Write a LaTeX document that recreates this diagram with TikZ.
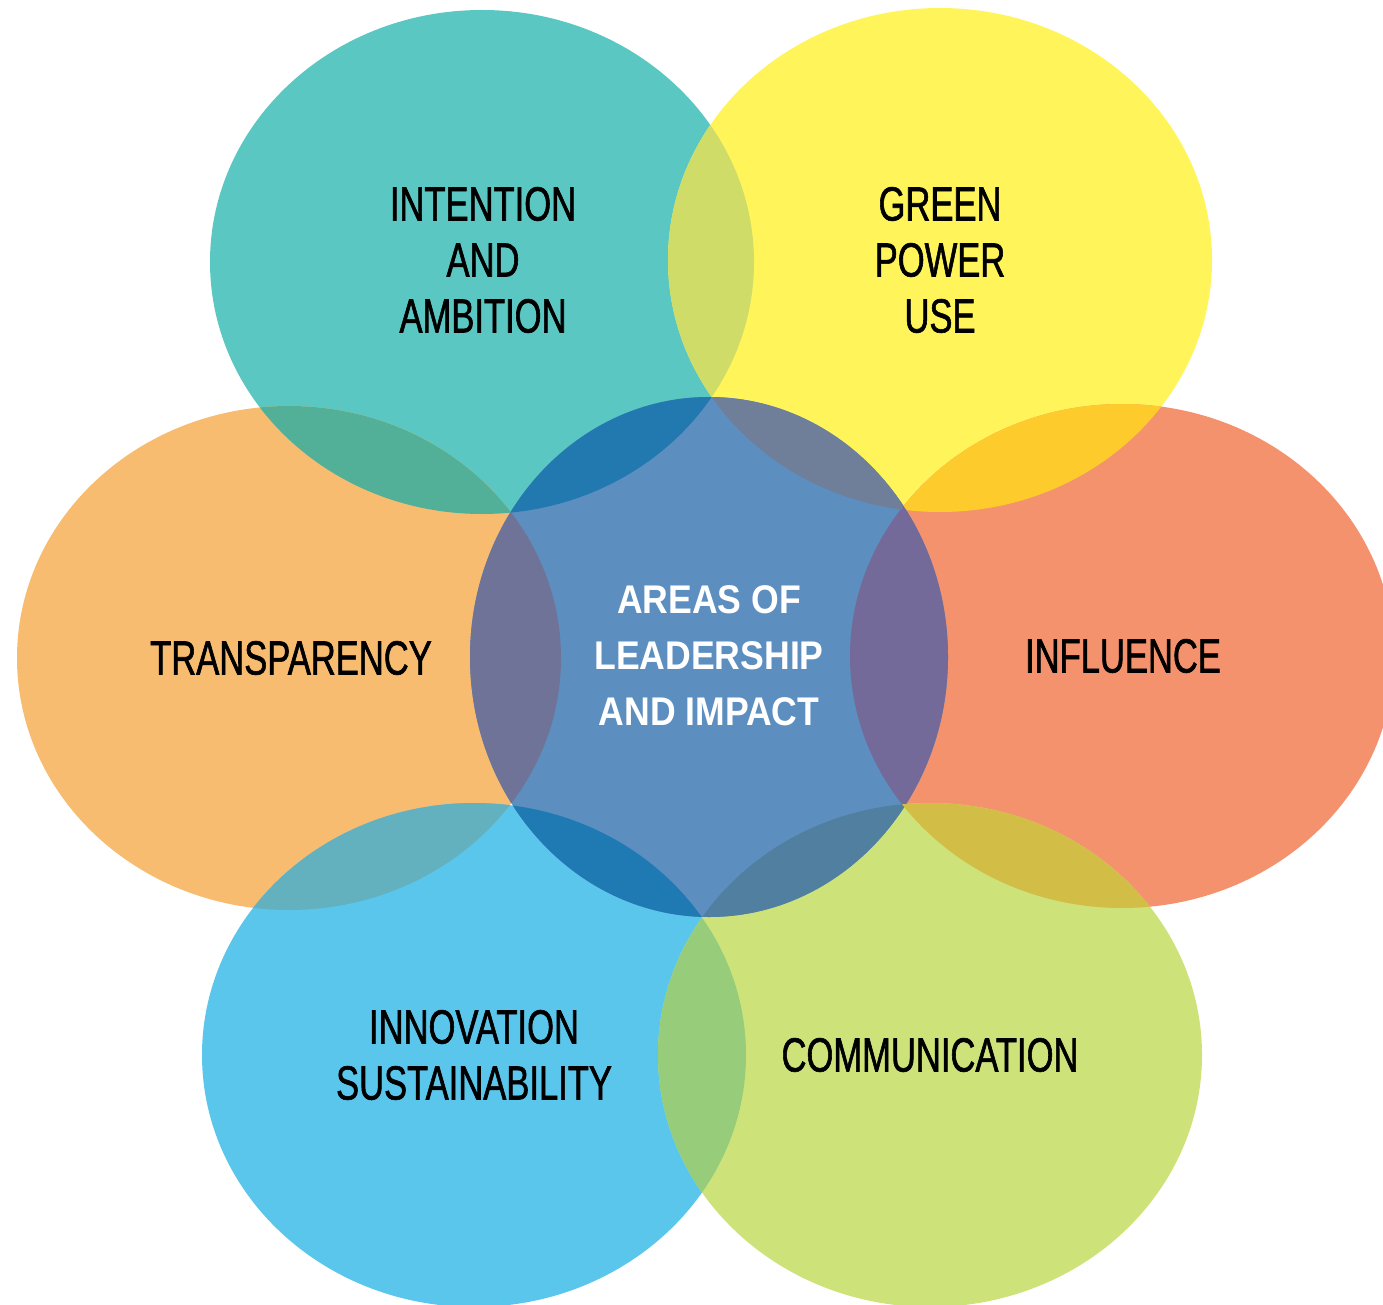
\documentclass[tikz,border=0pt]{standalone}
\usepackage{fontspec}
\newfontfamily\labelfont{Liberation Sans}[FakeStretch=0.72, FakeBold=1.2]
\newfontfamily\hubfont{Liberation Sans}[FakeStretch=0.89]
% disc colours
\definecolor{ambTeal}{HTML}{5BC7C3}
\definecolor{powYellow}{HTML}{FFF55B}
\definecolor{traOrange}{HTML}{F7BC6F}
\definecolor{infRed}{HTML}{F4926E}
\definecolor{hubBlue}{HTML}{5D8EC0}
\definecolor{innSky}{HTML}{5BC6EC}
\definecolor{comLime}{HTML}{CDE37A}
% overlap colours
\definecolor{mixTY}{HTML}{D0DC68}
\definecolor{mixTH}{HTML}{2179B0}
\definecolor{mixYH}{HTML}{6F7E99}
\definecolor{mixTO}{HTML}{52B099}
\definecolor{mixOH}{HTML}{6E7397}
\definecolor{mixYR}{HTML}{FECB2C}
\definecolor{mixRH}{HTML}{746A99}
\definecolor{mixOS}{HTML}{63B0BF}
\definecolor{mixSH}{HTML}{1F7AB4}
\definecolor{mixHL}{HTML}{517F9F}
\definecolor{mixRL}{HTML}{D2BE47}
\definecolor{mixSL}{HTML}{97CC7A}
\begin{document}
\begin{tikzpicture}[x=1pt, y=1pt,
    outer/.style={x radius=272, y radius=252},
    core/.style={x radius=239, y radius=260},
    tag/.style={align=center, inner sep=0pt, text=black, font=\labelfont\fontsize{48}{56}\selectfont},
    hubtag/.style={align=center, inner sep=0pt, text=white, font=\hubfont\bfseries\fontsize{40}{56}\selectfont}]
  \useasboundingbox (0,0) rectangle (1383,-1305);
  % centres of the discs
  \coordinate (tl) at (482,-262);
  \coordinate (tr) at (940,-260);
  \coordinate (ml) at (289,-658);
  \coordinate (mr) at (1122,-656);
  \coordinate (hub) at (709,-657);
  \coordinate (bl) at (474,-1055);
  \coordinate (br) at (930,-1055);
  % discs
  \foreach \c/\s/\col in {tl/outer/ambTeal, tr/outer/powYellow, ml/outer/traOrange,
      mr/outer/infRed, bl/outer/innSky, br/outer/comLime, hub/core/hubBlue}
    \fill[\col, \s] (\c) ellipse;
  % overlaps
  \foreach \a/\sa/\b/\sb/\col in {tl/outer/tr/outer/mixTY, tl/outer/hub/core/mixTH,
      tr/outer/hub/core/mixYH, tl/outer/ml/outer/mixTO, ml/outer/hub/core/mixOH,
      tr/outer/mr/outer/mixYR, mr/outer/hub/core/mixRH, ml/outer/bl/outer/mixOS,
      bl/outer/hub/core/mixSH, hub/core/br/outer/mixHL, mr/outer/br/outer/mixRL,
      bl/outer/br/outer/mixSL}
  {
    \begin{scope}
      \clip[\sa] (\a) ellipse;
      \fill[\col, \sb] (\b) ellipse;
    \end{scope}
  }
  % labels
  \node[tag] (intent) at (483,-260) {INTENTION\\AND\\AMBITION};
  \node[tag] (power) at (940,-260) {GREEN\\POWER\\USE};
  \node[tag] (transp) at (291,-658) {TRANSPARENCY};
  \node[tag] (influ) at (1123,-656) {INFLUENCE};
  \node[hubtag] (areas) at (709,-656) {AREAS OF\\LEADERSHIP\\AND IMPACT};
  \node[tag] (innov) at (474,-1055) {INNOVATION\\SUSTAINABILITY};
  \node[tag] (comm) at (930,-1055) {COMMUNICATION};
\end{tikzpicture}
\end{document}
